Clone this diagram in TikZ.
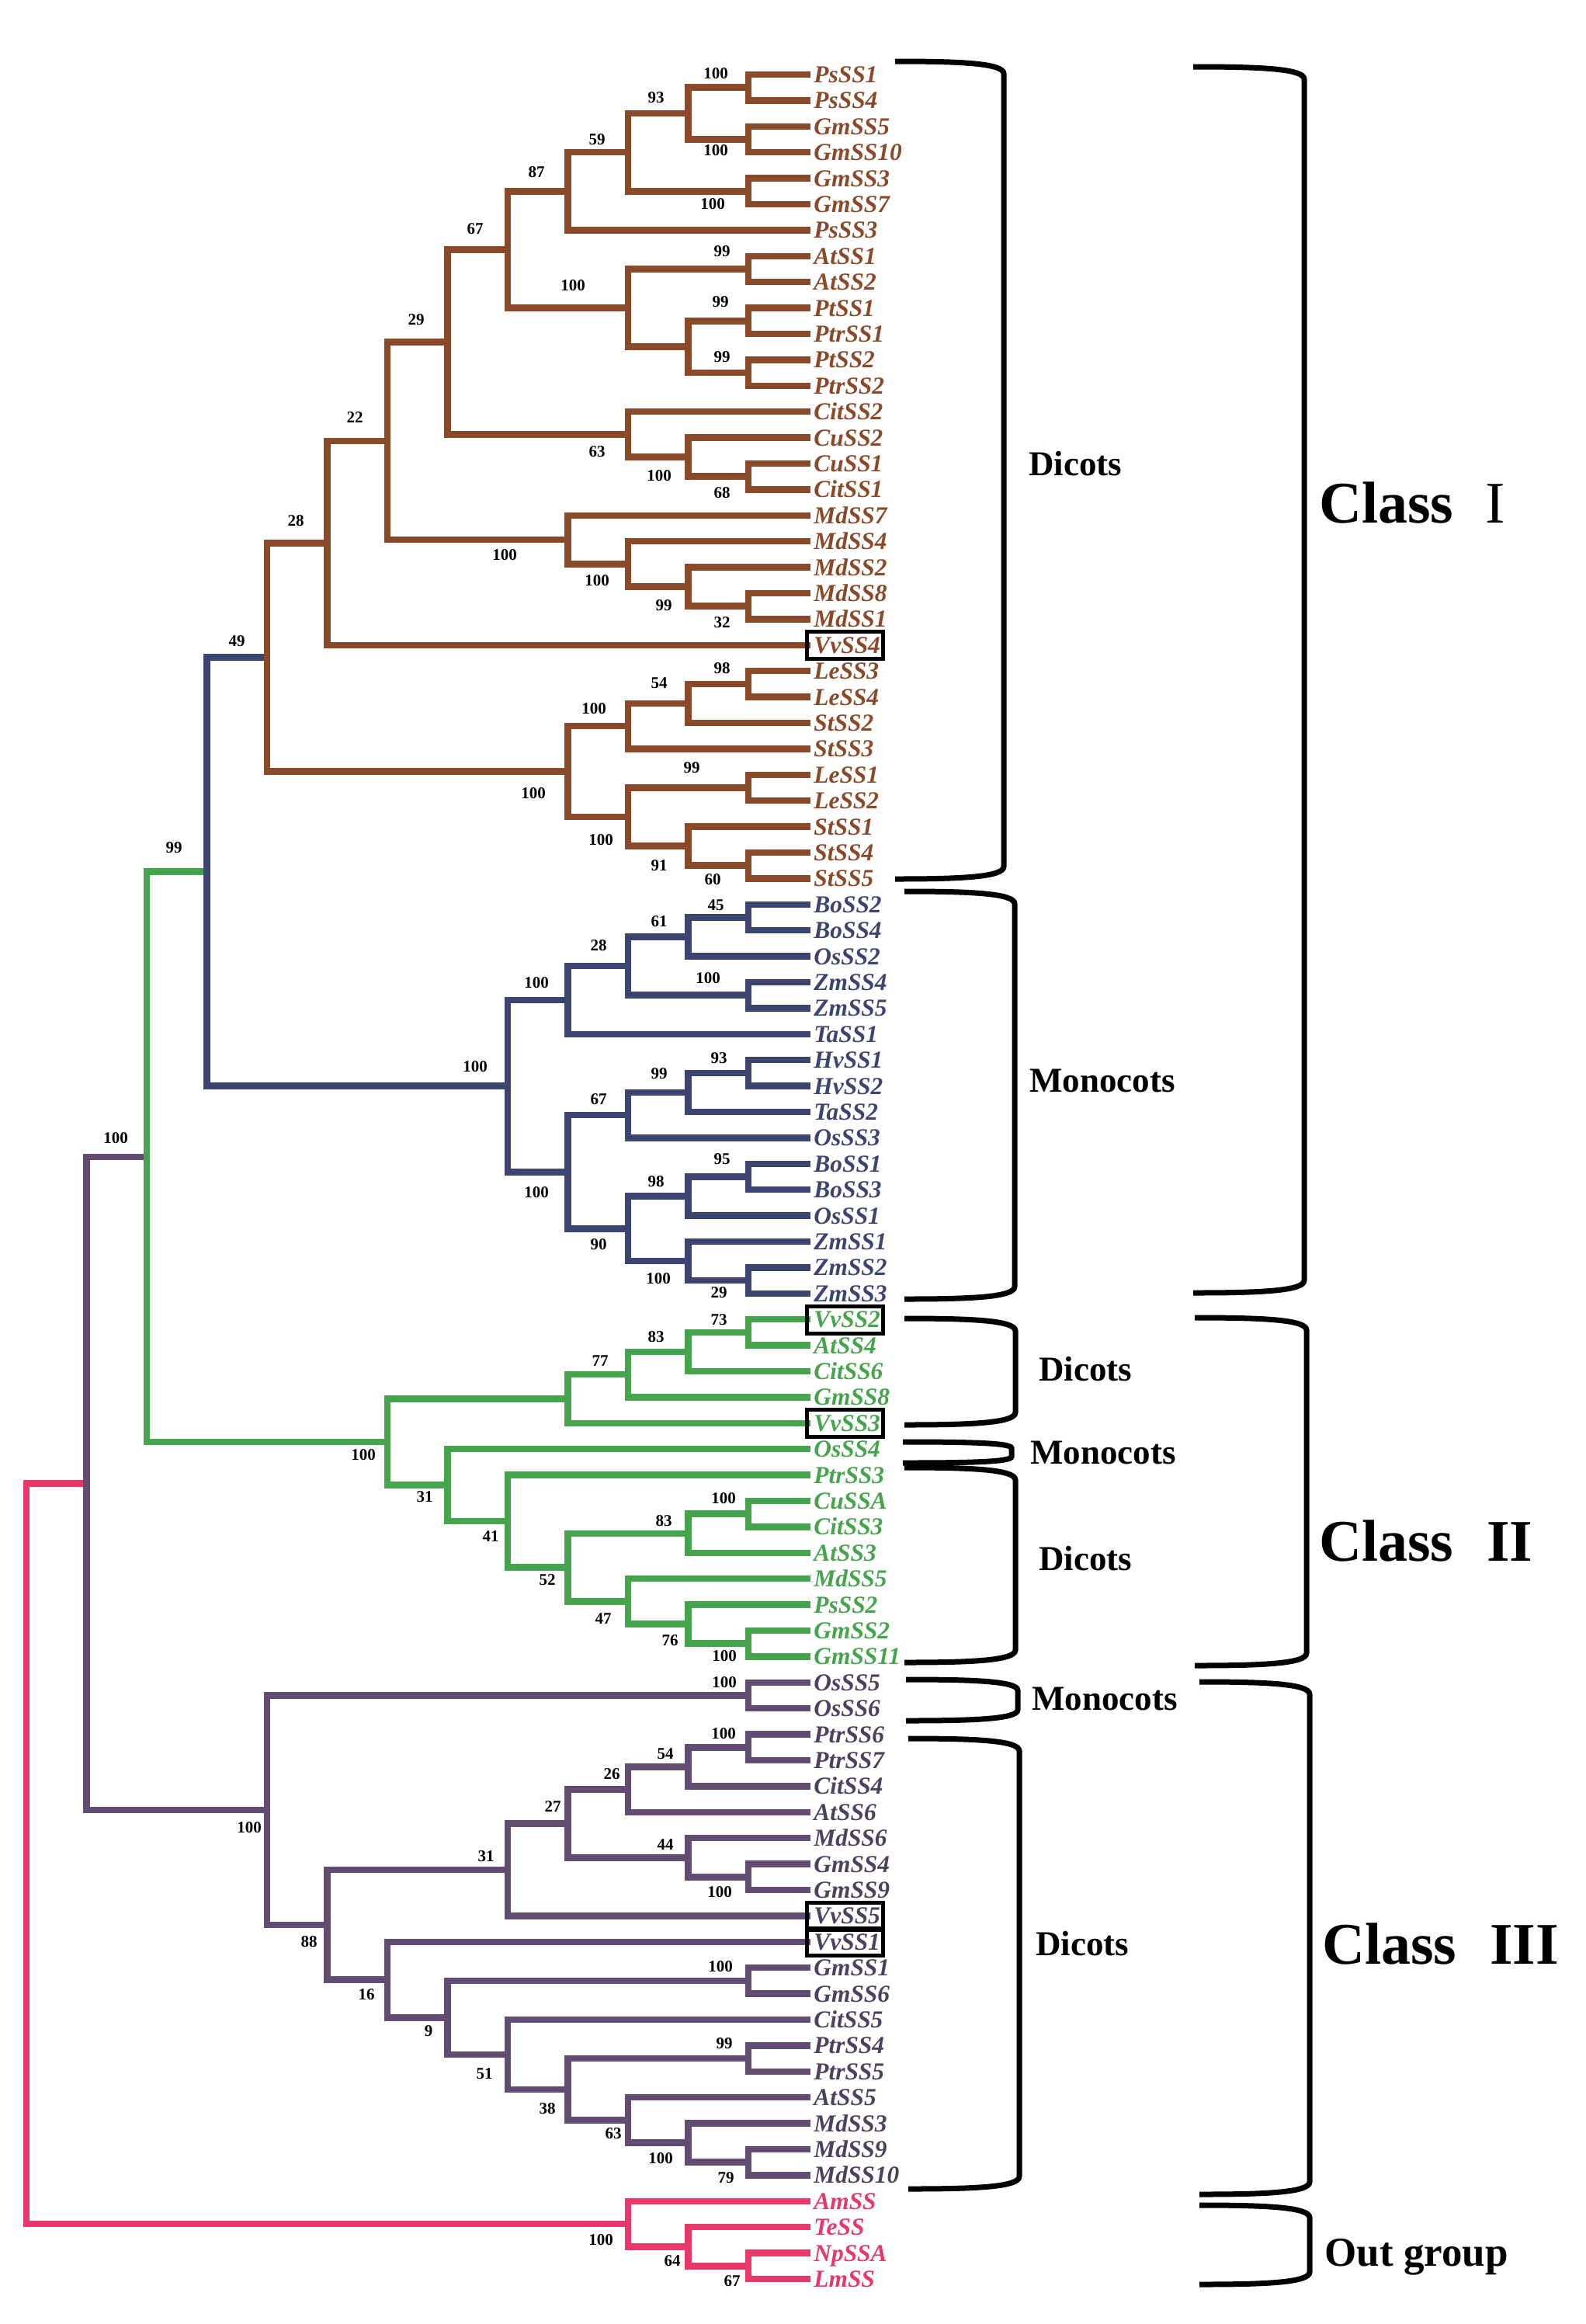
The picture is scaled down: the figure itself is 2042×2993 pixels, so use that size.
\documentclass[tikz,border=0pt]{standalone}
\usepackage{fontspec}
\setmainfont{Liberation Serif}
\usetikzlibrary{calc}
\definecolor{cbrown}{RGB}{138,74,42}
\definecolor{cnavy}{RGB}{60,68,112}
\definecolor{cgreen}{RGB}{70,164,76}
\definecolor{cpurple}{RGB}{98,76,114}
\definecolor{cptext}{RGB}{78,64,96}
\definecolor{cpink}{RGB}{232,56,106}
\newcommand\mknd[4]{\coordinate (tmpa) at ($(#3)!0.5!(#4)$);\coordinate (tmpx) at ({34+77.5*#2},0);\coordinate (#1) at (tmpa -| tmpx);}
\newcommand\brn[4]{\draw[branch,#2] (#3) -| (#1) |- (#4);}
\newcommand\brk[5]{\draw[brkt] (#1,#3) .. controls ({#1+0.6*(#2-#1)},#3) and (#2,{#3+0.15*#5}) .. (#2,{#3+#5}) -- (#2,{#4-#5}) .. controls (#2,{#4-0.15*#5}) and ({#1+0.6*(#2-#1)},#4) .. (#1,#4);}
\begin{document}
\begin{tikzpicture}[x=0.5pt,y=-0.5pt,
  branch/.style={line width=4.25pt,line join=miter,line cap=butt},
  brkt/.style={line width=3.5pt,black,line cap=butt},
  vbox/.style={line width=2.5pt,black},
  leaflab/.style={font=\fontsize{15.7}{16}\selectfont\bfseries\itshape,inner sep=0pt,anchor=base west},
  bs/.style={font=\fontsize{10.5}{12}\selectfont\bfseries,inner sep=0pt,text=black},
  grp/.style={font=\fontsize{22.5}{24}\selectfont\bfseries,inner sep=0pt,text=black},
  cls/.style={font=\fontsize{38}{40}\selectfont\bfseries,inner sep=0pt,text=black,anchor=base west}]
\fill[white] (0,0) rectangle (2042,2993);
\useasboundingbox (0,0) rectangle (2042,2993);
% leaves
\foreach \n [count=\i] in {PsSS1,PsSS4,GmSS5,GmSS10,GmSS3,GmSS7,PsSS3,AtSS1,AtSS2,PtSS1,PtrSS1,PtSS2,PtrSS2,CitSS2,CuSS2,CuSS1,CitSS1,MdSS7,MdSS4,MdSS2,MdSS8,MdSS1,VvSS4,LeSS3,LeSS4,StSS2,StSS3,LeSS1,LeSS2,StSS1,StSS4,StSS5,BoSS2,BoSS4,OsSS2,ZmSS4,ZmSS5,TaSS1,HvSS1,HvSS2,TaSS2,OsSS3,BoSS1,BoSS3,OsSS1,ZmSS1,ZmSS2,ZmSS3,VvSS2,AtSS4,CitSS6,GmSS8,VvSS3,OsSS4,PtrSS3,CuSSA,CitSS3,AtSS3,MdSS5,PsSS2,GmSS2,GmSS11,OsSS5,OsSS6,PtrSS6,PtrSS7,CitSS4,AtSS6,MdSS6,GmSS4,GmSS9,VvSS5,VvSS1,GmSS1,GmSS6,CitSS5,PtrSS4,PtrSS5,AtSS5,MdSS3,MdSS9,MdSS10,AmSS,TeSS,NpSSA,LmSS}
{
  \ifnum\i<33 \def\lc{cbrown}\else\ifnum\i<49 \def\lc{cnavy}\else\ifnum\i<63 \def\lc{cgreen}\else\ifnum\i<83 \def\lc{cptext}\else\def\lc{cpink}\fi\fi\fi\fi
  \coordinate (\n) at (1044,{96+(\i-1)*33.4});
  \node[leaflab,text=\lc] (lab\n) at (1048,{106.5+(\i-1)*33.4}) {\n};
}
% internal nodes: brown
\mknd{nA1}{12}{PsSS1}{PsSS4}
\mknd{nA2}{12}{GmSS5}{GmSS10}
\mknd{nA3}{11}{nA1}{nA2}
\mknd{nA4}{12}{GmSS3}{GmSS7}
\mknd{nA5}{10}{nA3}{nA4}
\mknd{nA6}{9}{nA5}{PsSS3}
\mknd{nA7}{12}{AtSS1}{AtSS2}
\mknd{nA8}{12}{PtSS1}{PtrSS1}
\mknd{nA9}{12}{PtSS2}{PtrSS2}
\mknd{nA10}{11}{nA8}{nA9}
\mknd{nA11}{10}{nA7}{nA10}
\mknd{nA12}{8}{nA6}{nA11}
\mknd{nB1}{12}{CuSS1}{CitSS1}
\mknd{nB2}{11}{CuSS2}{nB1}
\mknd{nB3}{10}{CitSS2}{nB2}
\mknd{nA13}{7}{nA12}{nB3}
\mknd{nC1}{12}{MdSS8}{MdSS1}
\mknd{nC2}{11}{MdSS2}{nC1}
\mknd{nC3}{10}{MdSS4}{nC2}
\mknd{nC4}{9}{MdSS7}{nC3}
\mknd{nD1}{6}{nA13}{nC4}
\mknd{nD2}{5}{nD1}{VvSS4}
\mknd{nE1}{12}{LeSS3}{LeSS4}
\mknd{nE2}{11}{nE1}{StSS2}
\mknd{nE3}{10}{nE2}{StSS3}
\mknd{nG1}{12}{LeSS1}{LeSS2}
\mknd{nH1}{12}{StSS4}{StSS5}
\mknd{nH2}{11}{StSS1}{nH1}
\mknd{nG}{10}{nG1}{nH2}
\mknd{nF}{9}{nE3}{nG}
\mknd{nD3}{4}{nD2}{nF}
% navy
\mknd{nI1}{12}{BoSS2}{BoSS4}
\mknd{nI2}{11}{nI1}{OsSS2}
\mknd{nI3}{12}{ZmSS4}{ZmSS5}
\mknd{nI4}{10}{nI2}{nI3}
\mknd{nI5}{9}{nI4}{TaSS1}
\mknd{nJ1}{12}{HvSS1}{HvSS2}
\mknd{nJ2}{11}{nJ1}{TaSS2}
\mknd{nJ3}{10}{nJ2}{OsSS3}
\mknd{nK1}{12}{BoSS1}{BoSS3}
\mknd{nK2}{11}{nK1}{OsSS1}
\mknd{nL1}{12}{ZmSS2}{ZmSS3}
\mknd{nL2}{11}{ZmSS1}{nL1}
\mknd{nK3}{10}{nK2}{nL2}
\mknd{nJ4}{9}{nJ3}{nK3}
\mknd{nM}{8}{nI5}{nJ4}
\mknd{nN}{3}{nD3}{nM}
% green
\mknd{nP1}{12}{VvSS2}{AtSS4}
\mknd{nP2}{11}{nP1}{CitSS6}
\mknd{nP3}{10}{nP2}{GmSS8}
\mknd{nP4}{9}{nP3}{VvSS3}
\mknd{nQ1}{12}{CuSSA}{CitSS3}
\mknd{nQ2}{11}{nQ1}{AtSS3}
\mknd{nR1}{12}{GmSS2}{GmSS11}
\mknd{nR2}{11}{PsSS2}{nR1}
\mknd{nR3}{10}{MdSS5}{nR2}
\mknd{nQ3}{9}{nQ2}{nR3}
\mknd{nQ4}{8}{PtrSS3}{nQ3}
\mknd{nQ5}{7}{OsSS4}{nQ4}
\mknd{nP5}{6}{nP4}{nQ5}
\mknd{nS}{2}{nN}{nP5}
% purple
\mknd{nU1}{12}{OsSS5}{OsSS6}
\mknd{nV1}{12}{PtrSS6}{PtrSS7}
\mknd{nV2}{11}{nV1}{CitSS4}
\mknd{nV3}{10}{nV2}{AtSS6}
\mknd{nV4}{12}{GmSS4}{GmSS9}
\mknd{nV5}{11}{MdSS6}{nV4}
\mknd{nV6}{9}{nV3}{nV5}
\mknd{nV7}{8}{nV6}{VvSS5}
\mknd{nW1}{12}{GmSS1}{GmSS6}
\mknd{nX1}{12}{MdSS9}{MdSS10}
\mknd{nX2}{11}{MdSS3}{nX1}
\mknd{nX3}{10}{AtSS5}{nX2}
\mknd{nX4}{12}{PtrSS4}{PtrSS5}
\mknd{nX5}{9}{nX4}{nX3}
\mknd{nX6}{8}{CitSS5}{nX5}
\mknd{nX7}{7}{nW1}{nX6}
\mknd{nX8}{6}{VvSS1}{nX7}
\mknd{nV8}{5}{nV7}{nX8}
\mknd{nU}{4}{nU1}{nV8}
\mknd{nT}{1}{nS}{nU}
% pink
\mknd{nY1}{12}{NpSSA}{LmSS}
\mknd{nY2}{11}{TeSS}{nY1}
\mknd{nY3}{10}{AmSS}{nY2}
\mknd{nRoot}{0}{nT}{nY3}
% draw branches (parents first)
\brn{nRoot}{cpink}{nT}{nY3}
\brn{nT}{cpurple}{nS}{nU}
\brn{nS}{cgreen}{nN}{nP5}
\brn{nN}{cnavy}{nD3}{nM}
\brn{nU}{cpurple}{nU1}{nV8}
\brn{nY3}{cpink}{AmSS}{nY2}
\brn{nY2}{cpink}{TeSS}{nY1}
\brn{nY1}{cpink}{NpSSA}{LmSS}
% brown
\brn{nD3}{cbrown}{nD2}{nF}
\brn{nD2}{cbrown}{nD1}{VvSS4}
\brn{nD1}{cbrown}{nA13}{nC4}
\brn{nA13}{cbrown}{nA12}{nB3}
\brn{nA12}{cbrown}{nA6}{nA11}
\brn{nA6}{cbrown}{nA5}{PsSS3}
\brn{nA5}{cbrown}{nA3}{nA4}
\brn{nA3}{cbrown}{nA1}{nA2}
\brn{nA1}{cbrown}{PsSS1}{PsSS4}
\brn{nA2}{cbrown}{GmSS5}{GmSS10}
\brn{nA4}{cbrown}{GmSS3}{GmSS7}
\brn{nA11}{cbrown}{nA7}{nA10}
\brn{nA7}{cbrown}{AtSS1}{AtSS2}
\brn{nA10}{cbrown}{nA8}{nA9}
\brn{nA8}{cbrown}{PtSS1}{PtrSS1}
\brn{nA9}{cbrown}{PtSS2}{PtrSS2}
\brn{nB3}{cbrown}{CitSS2}{nB2}
\brn{nB2}{cbrown}{CuSS2}{nB1}
\brn{nB1}{cbrown}{CuSS1}{CitSS1}
\brn{nC4}{cbrown}{MdSS7}{nC3}
\brn{nC3}{cbrown}{MdSS4}{nC2}
\brn{nC2}{cbrown}{MdSS2}{nC1}
\brn{nC1}{cbrown}{MdSS8}{MdSS1}
\brn{nF}{cbrown}{nE3}{nG}
\brn{nE3}{cbrown}{nE2}{StSS3}
\brn{nE2}{cbrown}{nE1}{StSS2}
\brn{nE1}{cbrown}{LeSS3}{LeSS4}
\brn{nG}{cbrown}{nG1}{nH2}
\brn{nG1}{cbrown}{LeSS1}{LeSS2}
\brn{nH2}{cbrown}{StSS1}{nH1}
\brn{nH1}{cbrown}{StSS4}{StSS5}
% navy
\brn{nM}{cnavy}{nI5}{nJ4}
\brn{nI5}{cnavy}{nI4}{TaSS1}
\brn{nI4}{cnavy}{nI2}{nI3}
\brn{nI2}{cnavy}{nI1}{OsSS2}
\brn{nI1}{cnavy}{BoSS2}{BoSS4}
\brn{nI3}{cnavy}{ZmSS4}{ZmSS5}
\brn{nJ4}{cnavy}{nJ3}{nK3}
\brn{nJ3}{cnavy}{nJ2}{OsSS3}
\brn{nJ2}{cnavy}{nJ1}{TaSS2}
\brn{nJ1}{cnavy}{HvSS1}{HvSS2}
\brn{nK3}{cnavy}{nK2}{nL2}
\brn{nK2}{cnavy}{nK1}{OsSS1}
\brn{nK1}{cnavy}{BoSS1}{BoSS3}
\brn{nL2}{cnavy}{ZmSS1}{nL1}
\brn{nL1}{cnavy}{ZmSS2}{ZmSS3}
% green
\brn{nP5}{cgreen}{nP4}{nQ5}
\brn{nP4}{cgreen}{nP3}{VvSS3}
\brn{nP3}{cgreen}{nP2}{GmSS8}
\brn{nP2}{cgreen}{nP1}{CitSS6}
\brn{nP1}{cgreen}{VvSS2}{AtSS4}
\brn{nQ5}{cgreen}{OsSS4}{nQ4}
\brn{nQ4}{cgreen}{PtrSS3}{nQ3}
\brn{nQ3}{cgreen}{nQ2}{nR3}
\brn{nQ2}{cgreen}{nQ1}{AtSS3}
\brn{nQ1}{cgreen}{CuSSA}{CitSS3}
\brn{nR3}{cgreen}{MdSS5}{nR2}
\brn{nR2}{cgreen}{PsSS2}{nR1}
\brn{nR1}{cgreen}{GmSS2}{GmSS11}
% purple
\brn{nU1}{cpurple}{OsSS5}{OsSS6}
\brn{nV8}{cpurple}{nV7}{nX8}
\brn{nV7}{cpurple}{nV6}{VvSS5}
\brn{nV6}{cpurple}{nV3}{nV5}
\brn{nV3}{cpurple}{nV2}{AtSS6}
\brn{nV2}{cpurple}{nV1}{CitSS4}
\brn{nV1}{cpurple}{PtrSS6}{PtrSS7}
\brn{nV5}{cpurple}{MdSS6}{nV4}
\brn{nV4}{cpurple}{GmSS4}{GmSS9}
\brn{nX8}{cpurple}{VvSS1}{nX7}
\brn{nX7}{cpurple}{nW1}{nX6}
\brn{nW1}{cpurple}{GmSS1}{GmSS6}
\brn{nX6}{cpurple}{CitSS5}{nX5}
\brn{nX5}{cpurple}{nX4}{nX3}
\brn{nX4}{cpurple}{PtrSS4}{PtrSS5}
\brn{nX3}{cpurple}{AtSS5}{nX2}
\brn{nX2}{cpurple}{MdSS3}{nX1}
\brn{nX1}{cpurple}{MdSS9}{MdSS10}
% boxes around VvSS
\foreach \v in {VvSS4,VvSS2,VvSS3,VvSS5,VvSS1}
  \draw[vbox] ($(\v)+(-5,-17)$) rectangle ($(\v)+(93,18)$);
% bootstrap values
\node[bs] (bA1) at (922,95) {100};
\node[bs] (bA2) at (922,194) {100};
\node[bs] (bA3) at (845,126) {93};
\node[bs] (bA4) at (918,263) {100};
\node[bs] (bA5) at (769,180) {59};
\node[bs] (bA6) at (691,222) {87};
\node[bs] (bA7) at (930,324) {99};
\node[bs] (bA8) at (928,389) {99};
\node[bs] (bA9) at (930,460) {99};
\node[bs] (bA11) at (738,368) {100};
\node[bs] (bA12) at (612,295) {67};
\node[bs] (bA13) at (536,412) {29};
\node[bs] (bB1) at (930,635) {68};
\node[bs] (bB2) at (849,613) {100};
\node[bs] (bB3) at (769,582) {63};
\node[bs] (bC1) at (930,802) {32};
\node[bs] (bC2) at (855,780) {99};
\node[bs] (bC3) at (769,748) {100};
\node[bs] (bC4) at (650,715) {100};
\node[bs] (bD1) at (457,538) {22};
\node[bs] (bD2) at (381,671) {28};
\node[bs] (bD3) at (305,826) {49};
\node[bs] (bE1) at (930,861) {98};
\node[bs] (bE2) at (849,880) {54};
\node[bs] (bE3) at (765,913) {100};
\node[bs] (bG1) at (891,989) {99};
\node[bs] (bF) at (687,1022) {100};
\node[bs] (bG) at (774,1082) {100};
\node[bs] (bH2) at (849,1115) {91};
\node[bs] (bH1) at (918,1133) {60};
\node[bs] (bI1) at (922,1166) {45};
\node[bs] (bI2) at (849,1187) {61};
\node[bs] (bI4) at (771,1218) {28};
\node[bs] (bI3) at (912,1260) {100};
\node[bs] (bI5) at (691,1266) {100};
\node[bs] (bJ1) at (926,1363) {93};
\node[bs] (bM) at (612,1374) {100};
\node[bs] (bJ2) at (849,1383) {99};
\node[bs] (bJ3) at (771,1416) {67};
\node[bs] (bK1) at (930,1493) {95};
\node[bs] (bK2) at (845,1522) {98};
\node[bs] (bJ4) at (691,1536) {100};
\node[bs] (bK3) at (771,1603) {90};
\node[bs] (bL2) at (848,1647) {100};
\node[bs] (bL1) at (926,1665) {29};
\node[bs] (bN) at (224,1092) {99};
\node[bs] (bP1) at (926,1700) {73};
\node[bs] (bP2) at (845,1722) {83};
\node[bs] (bP3) at (773,1753) {77};
\node[bs] (bP5) at (468,1874) {100};
\node[bs] (bQ5) at (547,1928) {31};
\node[bs] (bQ1) at (932,1930) {100};
\node[bs] (bQ2) at (855,1959) {83};
\node[bs] (bQ4) at (632,1979) {41};
\node[bs] (bQ3) at (705,2035) {52};
\node[bs] (bR3) at (777,2085) {47};
\node[bs] (bR2) at (863,2113) {76};
\node[bs] (bR1) at (933,2133) {100};
\node[bs] (bS) at (149,1466) {100};
\node[bs] (bU1) at (933,2167) {100};
\node[bs] (bV1) at (932,2233) {100};
\node[bs] (bV2) at (857,2259) {54};
\node[bs] (bV3) at (788,2285) {26};
\node[bs] (bV6) at (712,2327) {27};
\node[bs] (bU) at (321,2354) {100};
\node[bs] (bV5) at (857,2376) {44};
\node[bs] (bV7) at (626,2391) {31};
\node[bs] (bV4) at (927,2437) {100};
\node[bs] (bV8) at (398,2501) {88};
\node[bs] (bW1) at (928,2533) {100};
\node[bs] (bX8) at (472,2569) {16};
\node[bs] (bX7) at (552,2616) {9};
\node[bs] (bX4) at (933,2632) {99};
\node[bs] (bX6) at (624,2671) {51};
\node[bs] (bX5) at (705,2716) {38};
\node[bs] (bX3) at (790,2748) {63};
\node[bs] (bX2) at (851,2780) {100};
\node[bs] (bX1) at (935,2805) {79};
\node[bs] (bY3) at (774,2885) {100};
\node[bs] (bY2) at (866,2912) {64};
\node[bs] (bY1) at (943,2938) {67};
% brackets
\brk{1153}{1293}{79}{1132}{16}
\brk{1165}{1307}{1148}{1673}{16}
\brk{1165}{1308}{1698}{1835}{16}
\brk{1163}{1303}{1857}{1884}{8}
\brk{1165}{1308}{1890}{2141}{16}
\brk{1167}{1311}{2163}{2216}{14}
\brk{1170}{1313}{2239}{2819}{16}
\brk{1537}{1680}{86}{1665}{16}
\brk{1539}{1683}{1697}{2145}{16}
\brk{1545}{1687}{2166}{2826}{16}
\brk{1545}{1687}{2840}{2942}{16}
% group labels
\node[grp] (g1) at (1385,597) {Dicots};
\node[grp] (g2) at (1420,1392) {Monocots};
\node[grp] (g3) at (1398,1763) {Dicots};
\node[grp] (g4) at (1421,1871) {Monocots};
\node[grp] (g5) at (1398,2007) {Dicots};
\node[grp] (g6) at (1423,2188) {Monocots};
\node[grp] (g7) at (1394,2503) {Dicots};
\node[cls] (c1) at (1699,673) {Class};
\node[cls,font=\fontsize{38}{40}\selectfont] (c1n) at (1913,673) {I};
\node[cls] (c2) at (1699,2010) {Class};
\node[cls] (c2n) at (1915,2010) {II};
\node[cls] (c3) at (1703,2529) {Class};
\node[cls] (c3n) at (1919,2529) {III};
\node[font=\fontsize{26.5}{28}\selectfont\bfseries,inner sep=0pt,anchor=base west] (og) at (1706,2918) {Out group};
\end{tikzpicture}
\end{document}
